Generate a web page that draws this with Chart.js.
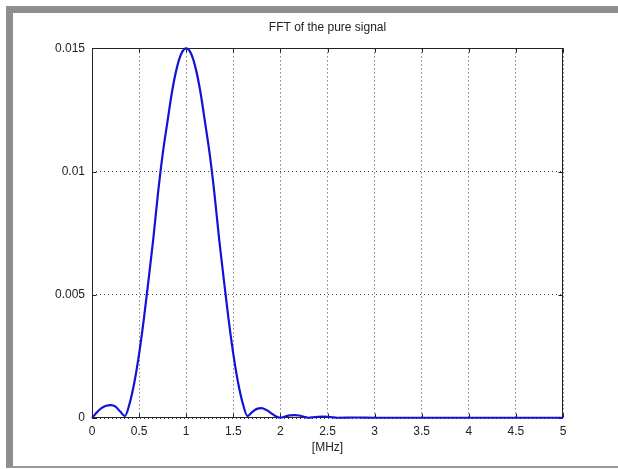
<!DOCTYPE html>
<html>
<head>
<meta charset="utf-8">
<script src="https://cdn.jsdelivr.net/npm/chart.js@4.4.1/dist/chart.umd.min.js"></script>
<style>
  html, body { margin: 0; padding: 0; background: #fff; }
  #wrap { position: relative; width: 618px; height: 469px; overflow: hidden; }
  #frame { position: absolute; left: 6px; top: 6px; width: 605px; height: 453px;
    border-top: 7px solid #8e8e8e; border-left: 7px solid #8e8e8e; border-bottom: 2px solid #9a9a9a; }
  canvas { position: absolute; left: 0; top: 0; }
</style>
</head>
<body>
<div id="wrap">
  <div id="frame"></div>
  <canvas id="grafico" width="618" height="469"></canvas>
</div>
<script>
// frequencies [MHz] and FFT magnitude
const freqs = [0, 0.05, 0.1, 0.15, 0.2, 0.25, 0.3, 0.35, 0.4, 0.45, 0.5, 0.55, 0.6, 0.65, 0.7, 0.75,
  0.8, 0.85, 0.9, 0.95, 1, 1.05, 1.1, 1.15, 1.2, 1.25, 1.3, 1.35, 1.4, 1.45, 1.5, 1.55, 1.6, 1.65,
  1.7, 1.75, 1.8, 1.85, 1.9, 1.95, 2, 2.05, 2.1, 2.15, 2.2, 2.25, 2.3, 2.35, 2.4, 2.45, 2.5, 2.55,
  2.6, 2.8, 3, 3.5, 4, 4.5, 5];
const magnitude = [0, 0.00022, 0.0004, 0.0005, 0.00052, 0.00046, 0.00026, 0.00008, 0.0006, 0.00145,
  0.0026, 0.004, 0.0056, 0.00725, 0.0091, 0.0107, 0.012, 0.01325, 0.0142, 0.0148, 0.015,
  0.0148, 0.0142, 0.01325, 0.012, 0.0107, 0.0091, 0.00725, 0.0056, 0.004, 0.0026, 0.00145, 0.0006,
  0.00008, 0.00024, 0.00037, 0.0004, 0.00033, 0.0002, 0.00007, 0.00001, 0.00006, 0.00011, 0.00012,
  0.0001, 0.00005, 0.00001, 0.00003, 0.00005, 0.00006, 0.00005, 0.00003, 0.00001, 0.00002,
  0.00001, 0.00001, 0.00001, 0.00001, 0.00001];

const xTicks = [0, 0.5, 1, 1.5, 2, 2.5, 3, 3.5, 4, 4.5, 5];
const xTickLabels = ['0', '0.5', '1', '1.5', '2', '2.5', '3', '3.5', '4', '4.5', '5'];
const yTicks = [0, 0.005, 0.01, 0.015];
const yTickLabels = ['0', '0.005', '0.01', '0.015'];

const fonte = { family: "'Liberation Sans', Arial, sans-serif", size: 12 };

// caixa do eixo estilo MATLAB + ticks para dentro + rótulo do eixo x
const caixaPlugin = {
  id: 'caixa',
  beforeDatasetsDraw(chart) {
    const { ctx, chartArea: a, scales: { x, y } } = chart;
    const l = Math.round(a.left) + 0.5, r = Math.round(a.right) - 0.5;
    const t = Math.round(a.top) + 0.5, b = Math.round(a.bottom) - 0.5;
    ctx.save();
    ctx.strokeStyle = '#222';
    ctx.lineWidth = 1;
    ctx.setLineDash([]);
    ctx.strokeRect(l, t, r - l, b - t);
    ctx.beginPath();
    xTicks.forEach(v => {
      const px = Math.round(x.getPixelForValue(v)) + 0.5;
      ctx.moveTo(px, b); ctx.lineTo(px, b - 4);
      ctx.moveTo(px, t); ctx.lineTo(px, t + 4);
    });
    yTicks.forEach(v => {
      const py = Math.round(y.getPixelForValue(v)) + 0.5;
      ctx.moveTo(l, py); ctx.lineTo(l + 4, py);
      ctx.moveTo(r, py); ctx.lineTo(r - 4, py);
    });
    ctx.stroke();
    ctx.restore();
  },
  afterDraw(chart) {
    const { ctx, chartArea: a } = chart;
    ctx.save();
    ctx.font = "12px 'Liberation Sans', Arial, sans-serif";
    ctx.fillStyle = '#222';
    ctx.textAlign = 'center';
    ctx.textBaseline = 'middle';
    ctx.fillText('[MHz]', (a.left + a.right) / 2, 448);
    ctx.restore();
  }
};

new Chart(document.getElementById('grafico').getContext('2d'), {
  type: 'line',
  data: {
    datasets: [{
      label: 'FFT',
      data: freqs.map((f, i) => ({ x: f, y: magnitude[i] })),
      borderColor: '#1212d8',
      borderWidth: 2.2,
      pointRadius: 0,
      fill: false,
      cubicInterpolationMode: 'monotone',
      clip: false
    }]
  },
  options: {
    responsive: false,
    animation: false,
    layout: { padding: { left: 0, right: 55, top: 0, bottom: 0 } },
    plugins: {
      legend: { display: false },
      tooltip: { enabled: false },
      title: {
        display: true,
        text: 'FFT of the pure signal',
        fullSize: false,
        color: '#222',
        font: { ...fonte, weight: 'normal', lineHeight: 1.2 },
        padding: { top: 20, bottom: 14 }
      }
    },
    scales: {
      x: {
        type: 'linear',
        min: 0,
        max: 5,
        afterBuildTicks: s => { s.ticks = xTicks.map(v => ({ value: v })); },
        afterFit: s => { s.height = 51; },
        ticks: {
          callback: (v, i) => xTickLabels[i],
          font: fonte, color: '#222', padding: 6,
          maxRotation: 0, autoSkip: false
        },
        grid: { color: '#444', lineWidth: 1, drawTicks: false },
        border: { display: false, dash: [1, 3] }
      },
      y: {
        min: 0,
        max: 0.015,
        afterBuildTicks: s => { s.ticks = yTicks.map(v => ({ value: v })); },
        afterFit: s => { s.width = 92; },
        ticks: {
          callback: (v, i) => yTickLabels[i],
          font: fonte, color: '#222', padding: 7, autoSkip: false
        },
        grid: { color: '#444', lineWidth: 1, drawTicks: false },
        border: { display: false, dash: [1, 3] }
      }
    }
  },
  plugins: [caixaPlugin]
});
</script>
</body>
</html>
